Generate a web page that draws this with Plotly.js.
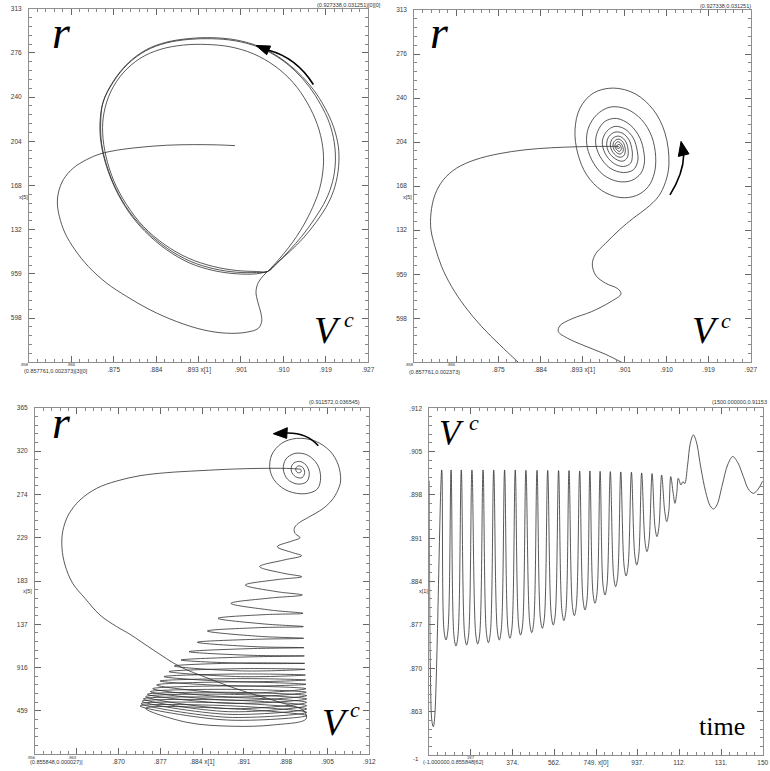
<!DOCTYPE html>
<html><head><meta charset="utf-8">
<script src="https://cdn.plot.ly/plotly-3.0.1.min.js"></script>
<style>html,body{margin:0;padding:0;background:#fff}#chart{width:770px;height:771px}</style>
</head><body><div id="chart"></div>
<script>
// ---------- Panel 1 : r versus V^c (trajectory onto limit cycle) ----------
const p1_vc = [0.90004,0.89628,0.89149,0.88602,0.88054,0.87575,0.87233,0.86960,0.86686,0.86481,0.86378,0.86358,0.86399,0.86515,0.86720,0.86994,0.87370,0.87781,0.88259,0.88807,0.89354,0.89833,0.90243,0.90483,0.90551,0.90537,0.90469,0.90435,0.90483,0.90585,0.90674,
0.90927,0.91269,0.91543,0.91735,0.91817,0.91803,0.91694,0.91488,0.91201,0.90825,0.90380,0.89901,0.89422,0.88944,0.88465,0.88054,0.87712,0.87459,0.87315,0.87288,0.87356,0.87521,0.87781,0.88123,0.88567,0.89046,0.89559,0.90038,0.90449,0.90674,
0.90859,0.91119,0.91372,0.91646,0.91871,0.92008,0.92063,0.92043,0.91940,0.91762,0.91529,0.91235,0.90873,0.90469,0.90004,0.89525,0.89046,0.88581,0.88171,0.87801,0.87500,0.87295,0.87247,0.87268,0.87370,0.87555,0.87828,0.88171,0.88615,0.89094,0.89573,0.90038,0.90449,0.90674,
0.90859,0.91133,0.91406,0.91680,0.91919,0.92056,0.92131,0.92124,0.92022,0.91851,0.91612,0.91304,0.90927,0.90517,0.90038,0.89559,0.89080,0.88602,0.88191,0.87815,0.87507,0.87302,0.87233,0.87254,0.87356,0.87541,0.87815,0.88157,0.88602,0.89080,0.89559,0.90038,0.90449,0.90674];
const p1_r = [0.02007,0.02013,0.02015,0.02010,0.01993,0.01969,0.01939,0.01893,0.01824,0.01729,0.01620,0.01538,0.01429,0.01293,0.01156,0.01020,0.00884,0.00775,0.00666,0.00570,0.00502,0.00475,0.00483,0.00515,0.00570,0.00638,0.00734,0.00815,0.00889,0.00944,0.00979,
0.01088,0.01265,0.01456,0.01647,0.01838,0.02002,0.02179,0.02356,0.02520,0.02656,0.02757,0.02814,0.02833,0.02828,0.02792,0.02719,0.02602,0.02452,0.02274,0.02111,0.01920,0.01715,0.01524,0.01347,0.01197,0.01088,0.01020,0.00987,0.00979,0.00979,
0.01042,0.01151,0.01265,0.01415,0.01565,0.01715,0.01865,0.02029,0.02193,0.02343,0.02487,0.02618,0.02732,0.02814,0.02863,0.02880,0.02874,0.02844,0.02781,0.02672,0.02522,0.02359,0.02184,0.02021,0.01846,0.01658,0.01473,0.01314,0.01167,0.01061,0.01001,0.00973,0.00971,0.00979,
0.01047,0.01143,0.01252,0.01388,0.01538,0.01675,0.01838,0.02002,0.02165,0.02315,0.02465,0.02602,0.02724,0.02814,0.02869,0.02888,0.02882,0.02852,0.02792,0.02683,0.02533,0.02370,0.02193,0.02029,0.01852,0.01661,0.01470,0.01306,0.01156,0.01047,0.00987,0.00960,0.00960,0.00979];

// ---------- Panel 2 : r versus V^c (spiral into a stable focus) ----------
const p2a_vc = [0.89996,0.89582,0.89134,0.88617,0.88065,0.87514,0.87031,0.86652,0.86376,0.86203,0.86121,0.86121,0.86203,0.86341,0.86548,0.86824,0.87169,0.87548,0.87927];
const p2a_r  = [0.02007,0.02007,0.02004,0.01996,0.01979,0.01946,0.01897,0.01829,0.01733,0.01610,0.01460,0.01323,0.01186,0.01022,0.00858,0.00694,0.00530,0.00379,0.00237];
const p2b_vc = [0.90065,0.89720,0.89307,0.88948,0.88755,0.88789,0.89031,0.89445,0.89844,0.90051,0.89982,0.89734,0.89527,0.89458,0.89527,0.89734,0.90031,0.90306,0.90582,0.90824,0.90975,
0.91044,0.90962,0.90720,0.90341,0.89893,0.89479,0.89203,0.89100,0.89155,0.89341,0.89651,0.90031,0.90375,0.90617,0.90741,
0.90768,0.90686,0.90479,0.90169,0.89824,0.89548,0.89376,0.89341,0.89445,0.89686,0.89996,0.90272,0.90465,0.90534,
0.90527,0.90444,0.90238,0.89962,0.89720,0.89569,0.89527,0.89617,0.89824,0.90100,0.90306,0.90396,
0.90389,0.90306,0.90134,0.89927,0.89755,0.89665,0.89720,0.89893,0.90100,0.90251,0.90286,
0.90279,0.90217,0.90079,0.89927,0.89803,0.89755,0.89803,0.89941,0.90086,0.90182,
0.90196,0.90134,0.90010,0.89886,0.89831,0.89886,0.90010,0.90106,0.90141,
0.90086,0.89989,0.89907,0.89886,0.89941,0.90031,0.90093,0.90093,
0.90044,0.89976,0.89927,0.89962,0.90024,0.90058,
0.90017,0.89962,0.89982,0.90024,0.89996];
const p2b_r = [0.00237,0.00305,0.00371,0.00434,0.00489,0.00538,0.00593,0.00653,0.00735,0.00798,0.00841,0.00885,0.00951,0.01044,0.01126,0.01213,0.01328,0.01419,0.01501,0.01596,0.01719,
0.01870,0.02116,0.02307,0.02439,0.02485,0.02444,0.02321,0.02143,0.01952,0.01774,0.01646,0.01588,0.01605,0.01678,0.01788,
0.01925,0.02089,0.02225,0.02313,0.02329,0.02266,0.02157,0.02034,0.01897,0.01774,0.01719,0.01728,0.01788,0.01870,
0.01952,0.02075,0.02184,0.02236,0.02212,0.02130,0.02034,0.01925,0.01829,0.01793,0.01815,0.01884,
0.01966,0.02075,0.02149,0.02171,0.02130,0.02048,0.01952,0.01870,0.01842,0.01870,0.01930,
0.01979,0.02061,0.02116,0.02124,0.02089,0.02028,0.01957,0.01903,0.01886,0.01916,
0.01987,0.02056,0.02091,0.02075,0.02020,0.01957,0.01919,0.01930,0.01979,
0.02045,0.02067,0.02045,0.02007,0.01963,0.01944,0.01966,0.01998,
0.02034,0.02045,0.02015,0.01979,0.01966,0.01990,
0.02023,0.02012,0.01990,0.01996,0.02007];

// ---------- Panel 3 : r versus V^c (slow oscillation band, then spiral) ----------
const p3_transient_vc = [0.89985,0.89780,0.89335,0.88891,0.88335,0.87779,0.87335,0.86946,0.86613,0.86335,0.86140,0.86046,0.86035,0.86085,0.86213,0.86418,0.86668,0.86946,0.87168,0.87557,0.88002,0.88446,0.88835,0.89224,0.89669,0.90069];
const p3_transient_r  = [0.03008,0.03015,0.03015,0.03008,0.02991,0.02970,0.02938,0.02882,0.02805,0.02682,0.02524,0.02348,0.02173,0.01997,0.01804,0.01646,0.01470,0.01348,0.01267,0.01102,0.00926,0.00810,0.00716,0.00635,0.00551,0.00459];
const p3_band_vc = [0.90102,0.89557,0.88891,0.88113,
0.87429,0.88824,0.90113,
0.88780,0.87335,0.88780,0.90113,
0.88785,0.87352,0.88785,0.90113,
0.88796,0.87368,0.88796,0.90113,
0.88807,0.87391,0.88807,0.90113,
0.88824,0.87429,0.88824,0.90113,
0.88841,0.87457,0.88841,0.90113,
0.88863,0.87507,0.88863,0.90107,
0.88880,0.87546,0.88880,0.90102,
0.88913,0.87613,0.88913,0.90102,
0.88941,0.87668,0.88941,0.90096,
0.88968,0.87735,0.88968,0.90091,
0.89007,0.87818,0.89007,0.90085,
0.89046,0.87907,0.89046,0.90080,
0.89102,0.88018,0.89102,0.90074,
0.89168,0.88152,0.89168,0.90069,
0.89235,0.88291,0.89235,0.90063,
0.89313,0.88457,0.89313,0.90057,
0.89402,0.88635,0.89402,0.90052,
0.89502,0.88852,0.89502,0.90041,
0.89618,0.89091,0.89618,0.90030,
0.89735,0.89330,0.89735,0.90030,
0.89880,0.89624,0.89868,0.90002];
const p3_band_r = [0.00375,0.00312,0.00298,0.00340,
0.00487,0.00484,0.00410,
0.00364,0.00512,0.00515,0.00445,
0.00393,0.00536,0.00544,0.00480,
0.00424,0.00561,0.00575,0.00515,
0.00452,0.00586,0.00603,0.00550,
0.00484,0.00610,0.00635,0.00586,
0.00540,0.00635,0.00656,0.00621,
0.00572,0.00663,0.00687,0.00656,
0.00607,0.00694,0.00723,0.00694,
0.00645,0.00733,0.00765,0.00740,
0.00723,0.00775,0.00800,0.00786,
0.00768,0.00821,0.00849,0.00838,
0.00821,0.00874,0.00905,0.00898,
0.00881,0.00933,0.00965,0.00961,
0.00961,0.00996,0.01028,0.01039,
0.01046,0.01084,0.01116,0.01126,
0.01137,0.01183,0.01214,0.01225,
0.01246,0.01302,0.01337,0.01348,
0.01376,0.01435,0.01474,0.01488,
0.01523,0.01593,0.01649,0.01681,
0.01716,0.01786,0.01843,0.01874,
0.01909,0.01980,0.02050,0.02095,
0.02127,0.02190,0.02250,0.02285];
const p3_spiral_vc = [0.89919,0.89907,0.89974,0.90141,0.90391,0.90557,0.90657,0.90680,0.90641,0.90502,0.90252,0.89946,0.89696,0.89530,0.89502,0.89602,0.89807,0.90085,0.90291,0.90346,0.90291,0.90124,0.89919,0.89768,0.89724,0.89791,0.89963,0.90113,0.90157,0.90102,0.89991,0.89880,0.89857,0.89930,0.90035,0.90080,0.90041,0.89968,0.89930,0.89963,0.90019,0.90013,0.89985];
const p3_spiral_r  = [0.02331,0.02383,0.02436,0.02499,0.02594,0.02699,0.02822,0.02892,0.03050,0.03198,0.03303,0.03331,0.03279,0.03156,0.02998,0.02868,0.02776,0.02748,0.02798,0.02917,0.03057,0.03156,0.03173,0.03114,0.03008,0.02903,0.02850,0.02875,0.02963,0.03050,0.03089,0.03061,0.02987,0.02927,0.02917,0.02973,0.03029,0.03040,0.03005,0.02970,0.02977,0.03005,0.03008];

// ---------- Panel 4 : V^c versus time ----------
const p4_time = [-1,4,11,17,23,55, 65,74,83,97, 110,119,128,143, 158,167,176,191, 208,217,226,241, 256,265,274,289, 305,314,323,338, 353,362,371,386, 401,410,419,434, 451,460,469,484, 499,508,517,532, 548,557,566,581, 596,605,614,628, 643,652,661,676, 691,700,709,722, 736,745,754,768, 781,790,799,814, 829,838,847,861, 876,885,894,909, 924,933,942,955, 970,979,988,1002, 1015,1024,1033,1045, 1059,1068,1077,1086, 1097,1105,1113,1120,
1132,1141,1149,1162,1174,1188,1201,1222,1243,1263,1278,1294,1318,1342,1365,1387,1413,1435,1458,1480,1500];
const p4_vc = [0.89991,0.86870,0.86120,0.86040,0.86174,0.90163, 0.87593,0.87432,0.87593,0.90163, 0.87497,0.87336,0.87497,0.90163, 0.87513,0.87352,0.87513,0.90163, 0.87529,0.87368,0.87529,0.90163, 0.87550,0.87389,0.87550,0.90163, 0.87593,0.87432,0.87593,0.90163, 0.87620,0.87459,0.87620,0.90163, 0.87673,0.87512,0.87673,0.90157, 0.87711,0.87550,0.87711,0.90157, 0.87781,0.87620,0.87781,0.90157, 0.87834,0.87673,0.87834,0.90152, 0.87904,0.87743,0.87904,0.90152, 0.87984,0.87823,0.87984,0.90147, 0.88075,0.87914,0.88075,0.90147, 0.88182,0.88021,0.88182,0.90141, 0.88316,0.88155,0.88316,0.90136, 0.88450,0.88289,0.88450,0.90131, 0.88621,0.88460,0.88621,0.90125, 0.88798,0.88637,0.88798,0.90115, 0.89012,0.88851,0.89012,0.90104, 0.89253,0.89092,0.89253,0.90082, 0.89494,0.89333,0.89494,0.90056, 0.89788,0.89627,0.89788,0.90029,
0.89922,0.89975,0.89943,0.90243,0.90591,0.90725,0.90618,0.90189,0.89815,0.89590,0.89536,0.89601,0.89922,0.90243,0.90377,0.90286,0.90056,0.89858,0.89788,0.89858,0.89986];

// ---------- tick labels ----------
const p1_xlabels = ['', '', '.875', '.884', '.893 x[1]', '.901', '.910', '.919', '.927'];
const p1_ylabels = ['', '598', '959', '132', '168', '204', '240', '276', '313'];
const p3_xlabels = ['', '', '.870', '.877', '.884 x[1]', '.891', '.898', '.905', '.912'];
const p3_ylabels = ['', '459', '916', '137', '183', '229', '274', '320', '365'];
const p4_xlabels = ['', '', '374.', '562.', '749. x[0]', '937.', '112.', '131.', '150'];
const p4_ylabels = ['', '.863', '.870', '.877', '.884', '.891', '.898', '.905', '.912'];

const R1x = [0.857761, 0.927338], R1y = [0.002373, 0.031251];
const R3x = [0.855848, 0.911572], R3y = [0.000027, 0.036545];
const R4x = [-1, 1500], R4y = [0.855848, 0.91153];

function axis(range, domain, anchor, labels, isY) {
  const step = (range[1] - range[0]) / 8;
  return {
    domain: domain, range: range, anchor: anchor, autorange: false,
    showgrid: false, zeroline: false, showline: true, linecolor: '#8e8e8e', linewidth: 1,
    mirror: 'ticks', ticks: 'inside', ticklen: 6, tickwidth: 1, tickcolor: '#666',
    tickmode: 'array', tickvals: labels.map((_, k) => range[0] + k * step), ticktext: labels,
    tickfont: {family: 'Liberation Sans, Arial, sans-serif', size: 6.5, color: '#3a3a3a'},
    ticklabelstandoff: isY ? 5 : 1,
    minor: {tickmode: 'linear', tick0: range[0], dtick: step / 5, ticks: 'inside', ticklen: 3, tickwidth: 1, tickcolor: '#888', showgrid: false},
    fixedrange: true
  };
}

const lineStyle = {color: '#2e2e2e', width: 0.8, shape: 'spline', smoothing: 1, simplify: false};
function tr(x, y, xa, ya) {
  return {type: 'scatter', mode: 'lines', x: x, y: y, xaxis: xa, yaxis: ya, line: lineStyle, hoverinfo: 'skip', showlegend: false};
}

const data = [
  tr(p1_vc, p1_r, 'x', 'y'),
  tr(p2a_vc, p2a_r, 'x2', 'y2'),
  tr(p2b_vc, p2b_r, 'x2', 'y2'),
  tr(p3_transient_vc.concat(p3_band_vc, p3_spiral_vc), p3_transient_r.concat(p3_band_r, p3_spiral_r), 'x3', 'y3'),
  tr(p4_time, p4_vc, 'x4', 'y4')
];

// ---------- arrows (decorations) ----------
const arrows = [
  {xr: 'x', yr: 'y', body: [[0.91612, 0.02506], [0.91260, 0.02725], [0.90695, 0.02785]], head: [[0.90435, 0.02825], [0.90736, 0.02820], [0.90654, 0.02749]]},
  {xr: 'x2', yr: 'y2', body: [[0.91065, 0.01610], [0.91341, 0.01785], [0.91348, 0.01936]], head: [[0.91293, 0.02048], [0.91237, 0.01925], [0.91458, 0.01946]]},
  {xr: 'x3', yr: 'y3', body: [[0.90307, 0.03254], [0.90113, 0.03391], [0.89786, 0.03388]], head: [[0.89557, 0.03380], [0.89791, 0.03444], [0.89780, 0.03331]]}
];
const shapes = [];
arrows.forEach(a => {
  const b = a.body, h = a.head;
  shapes.push({type: 'path', xref: a.xr, yref: a.yr, path: `M ${b[0][0]},${b[0][1]} Q ${b[1][0]},${b[1][1]} ${b[2][0]},${b[2][1]}`, line: {color: '#000', width: 1.6}});
  shapes.push({type: 'path', xref: a.xr, yref: a.yr, path: `M ${h[0][0]},${h[0][1]} L ${h[1][0]},${h[1][1]} L ${h[2][0]},${h[2][1]} Z`, fillcolor: '#000', line: {color: '#000', width: 1}});
});

// ---------- text ----------
const serifI = (s) => ({family: 'Liberation Serif, Times New Roman, serif', size: s, color: '#000', style: 'italic'});
const small = (s) => ({family: 'Liberation Sans, Arial, sans-serif', size: s, color: '#333'});
function txt(text, px, py, font, xa) {
  return {text: text, xref: 'paper', yref: 'paper', x: px / 770, y: 1 - py / 771, showarrow: false, xanchor: xa || 'left', yanchor: 'middle', font: font};
}
const annotations = [
  txt('r', 50, 32.5, serifI(46)), txt('V', 312, 330, serifI(38)), txt('c', 342, 319.6, serifI(22)),
  txt('r', 428, 32.5, serifI(46)), txt('V', 690, 330, serifI(38)), txt('c', 719, 320.5, serifI(22)),
  txt('r', 50, 422.5, serifI(46)), txt('V', 320, 722, serifI(38)), txt('c', 348, 709.6, serifI(22)),
  txt('V', 437, 433, serifI(35)), txt('c', 467, 422.6, serifI(22)),
  txt('time', 697, 726, {family: 'Liberation Serif, Times New Roman, serif', size: 26, color: '#000'}),
  txt('(0.927338,0.031251)[0][0]', 315, 5, small(5.5)),
  txt('(0.927338,0.031251)', 698, 6, small(5.5)),
  txt('(0.911572,0.036545)', 307, 402, small(5.5)),
  txt('(1500.000000,0.91153', 710, 402, small(5.5)),
  txt('(0.857761,0.002373)[3][0]', 22, 371, small(5.5)),
  txt('(0.857761,0.002373)', 407, 372, small(5.5)),
  txt('(0.855848,0.000027)]', 28, 762, small(5.5)),
  txt('(-1.000000,0.855848[62]', 421, 762, small(5.5)),
  txt('-1', 421, 759, small(6), 'right'),
  txt('.858', 24, 364.5, small(4.2), 'center'), txt('.866', 71, 364.5, small(4.2), 'center'),
  txt('.858', 409, 364.5, small(4.2), 'center'), txt('.866', 451, 364.5, small(4.2), 'center'),
  txt('.856', 31, 757.5, small(4.2), 'center'), txt('.863', 72, 757.5, small(4.2), 'center'),
  txt('187', 471, 757.5, small(4.2), 'center'),
  txt('x[5]', 23, 197, small(5.5), 'center'), txt('x[5]', 407, 197, small(5.5), 'center'),
  txt('x[5]', 27, 591, small(5.5), 'center'), txt('x[1]', 423, 591, small(5.5), 'center')
];

const layout = {
  width: 770, height: 771, margin: {l: 0, r: 0, t: 0, b: 0},
  paper_bgcolor: '#fff', plot_bgcolor: '#fff', showlegend: false,
  xaxis:  axis(R1x, [29 / 770, 368 / 770], 'y', p1_xlabels, false),
  yaxis:  axis(R1y, [1 - 362.3 / 771, 1 - 8.7 / 771], 'x', p1_ylabels, true),
  xaxis2: axis(R1x, [414.3 / 770, 750.7 / 770], 'y2', p1_xlabels, false),
  yaxis2: axis(R1y, [1 - 362.3 / 771, 1 - 10 / 771], 'x2', p1_ylabels, true),
  xaxis3: axis(R3x, [35 / 770, 369.3 / 770], 'y3', p3_xlabels, false),
  yaxis3: axis(R3y, [1 - 754.3 / 771, 1 - 407.7 / 771], 'x3', p3_ylabels, true),
  xaxis4: axis(R4x, [429.3 / 770, 762.7 / 770], 'y4', p4_xlabels, false),
  yaxis4: axis(R4y, [1 - 755 / 771, 1 - 408.3 / 771], 'x4', p4_ylabels, true),
  shapes: shapes, annotations: annotations
};

Plotly.newPlot('chart', data, layout, {staticPlot: true, displayModeBar: false});
</script>
</body></html>
